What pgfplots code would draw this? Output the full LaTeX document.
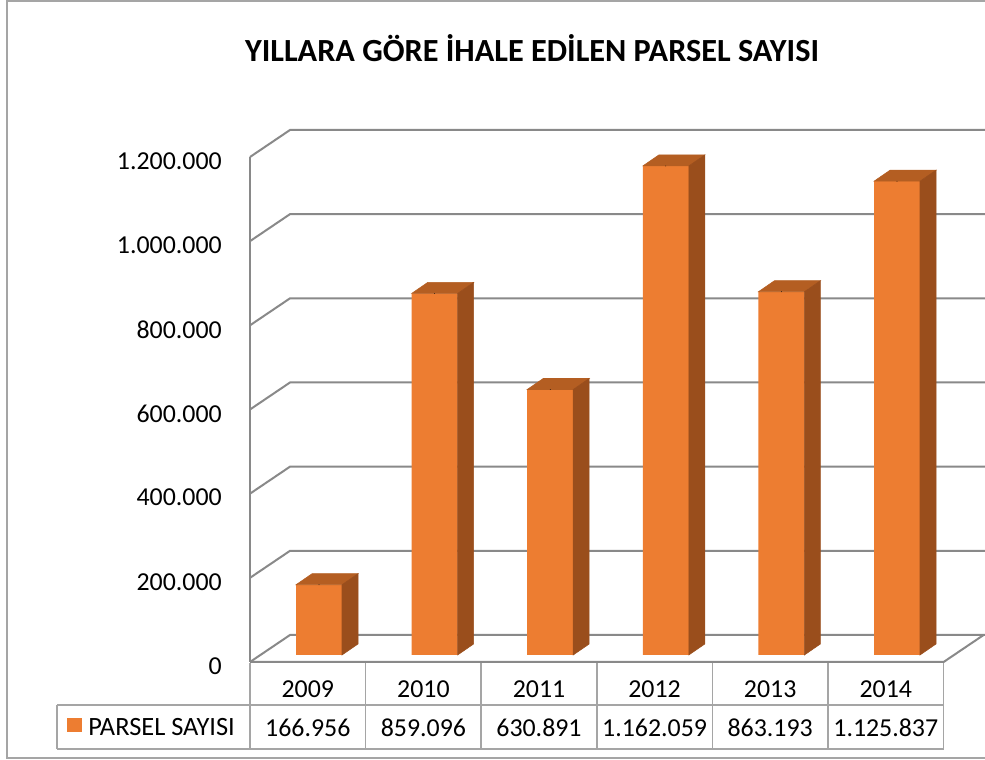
\documentclass[border=0pt]{standalone}
\usepackage{pgfplots}
\pgfplotsset{compat=1.18}
\usepackage{pgfplotstable}
\usepackage{fontspec}
\setmainfont{Carlito}
\definecolor{barfront}{HTML}{ED7D31}
\definecolor{bartop}{HTML}{B45E22}
\definecolor{barside}{HTML}{9A4E1C}
\definecolor{gridc}{HTML}{898989}
\definecolor{tablec}{HTML}{A5A5A5}

\pgfplotstableread{
x y
0 166956
1 859096
2 630891
3 1162059
4 863193
5 1125837
}\datatable

\begin{document}
\begin{tikzpicture}
\useasboundingbox (0,0) rectangle (738.75pt,570pt);
\begin{scope}[yshift=570pt, x=0.75pt, y=-0.75pt]
  % chart area border
  \draw[tablec, line width=1.5pt] (7,1) rectangle (1000,758);
  % title
  \node[font=\fontsize{24.2}{28}\selectfont\bfseries] at (532,48) {YILLARA GÖRE İHALE EDİLEN PARSEL SAYISI};
  % back wall gridlines and left wall diagonals
  \foreach \k in {0,...,6} {
    \draw[gridc, line width=1.5pt] (250,{662-84.1667*\k}) -- (290,{635-84.1667*\k}) -- (995,{635-84.1667*\k});
  }
  % left edge and floor
  \draw[gridc, line width=1.5pt] (250,157) -- (250,662);
  \draw[gridc, line width=1.5pt] (250,662) -- (943.6,662) -- (983.6,635);
  % data table grid
  \draw[tablec, line width=1.1pt] (57,705) -- (943.6,705) (57,749) -- (943.6,749) (57,705) -- (57,749);
  \foreach \k in {0,...,6} {
    \draw[tablec, line width=1.1pt] ({250+115.6*\k},663) -- ({250+115.6*\k},749);
  }
  % legend key in table
  \fill[barfront] (67,718) rectangle (82,732);
  \node[anchor=west, inner sep=0pt, font=\fontsize{19.8}{23}\selectfont] at (88,727) {PARSEL SAYISI};
\end{scope}

\begin{axis}[
  at={(187.5pt,73.5pt)}, anchor=south west,
  scale only axis, width=520.2pt, height=378.75pt,
  xmin=-0.5, xmax=5.5, ymin=0, ymax=1200000,
  clip=false,
  axis line style={draw=none},
  tick style={draw=none},
  xtick={0,1,2,3,4,5},
  xticklabels={2009,2010,2011,2012,2013,2014},
  ytick={0,200000,400000,600000,800000,1000000,1200000},
  scaled y ticks=false,
  ticklabel style={font=\fontsize{19.4}{23}\selectfont},
  yticklabel style={/pgf/number format/.cd, fixed, precision=0, 1000 sep={.}, assume math mode=true, /tikz/.cd, anchor=east, inner sep=0pt, xshift=-21pt, yshift=-3pt},
  xticklabel style={anchor=center, inner sep=0pt, yshift=-20.6pt},
]
% front faces of the bars
\addplot[ybar, bar width=34.5pt, bar shift=8.4pt, yshift=5.25pt, fill=barfront, draw=none] table[x=x,y=y]{\datatable};
% top and side faces
\addplot[scatter, only marks, mark=*, mark size=0.01pt, mark options={draw=none,fill=none},
  xshift=8.4pt, yshift=5.25pt,
  point meta=\thisrow{y}, point meta min=0, point meta max=1200000,
  scatter/use mapped color={draw=none,fill=none},
  scatter/@pre marker code/.code={%
    \pgfmathsetmacro\hh{\pgfplotspointmetatransformed*0.37875}%
    \fill[bartop] (-17.25pt,0pt) -- (17.25pt,0pt) -- (29.25pt,8.25pt) -- (-5.25pt,8.25pt) -- cycle;
    \fill[barside] (17.25pt,0pt) -- (29.25pt,8.25pt) -- (29.25pt,{(8.25-\hh)*1pt}) -- (17.25pt,{-\hh*1pt}) -- cycle;
  },
  scatter/@post marker code/.code={},
] table[x=x,y=y]{\datatable};
% values row of the data table
\addplot[draw=none, mark=none, point meta=\thisrow{y},
  nodes near coords={\pgfmathprintnumber[fixed, precision=0, 1000 sep={.}, assume math mode=true]{\pgfplotspointmeta}},
  every node near coord/.style={anchor=center, inner sep=0pt, yshift=-49.1pt, font=\fontsize{19.4}{23}\selectfont, text=black},
] table[x=x, y expr=0]{\datatable};
\end{axis}
\end{tikzpicture}
\end{document}
